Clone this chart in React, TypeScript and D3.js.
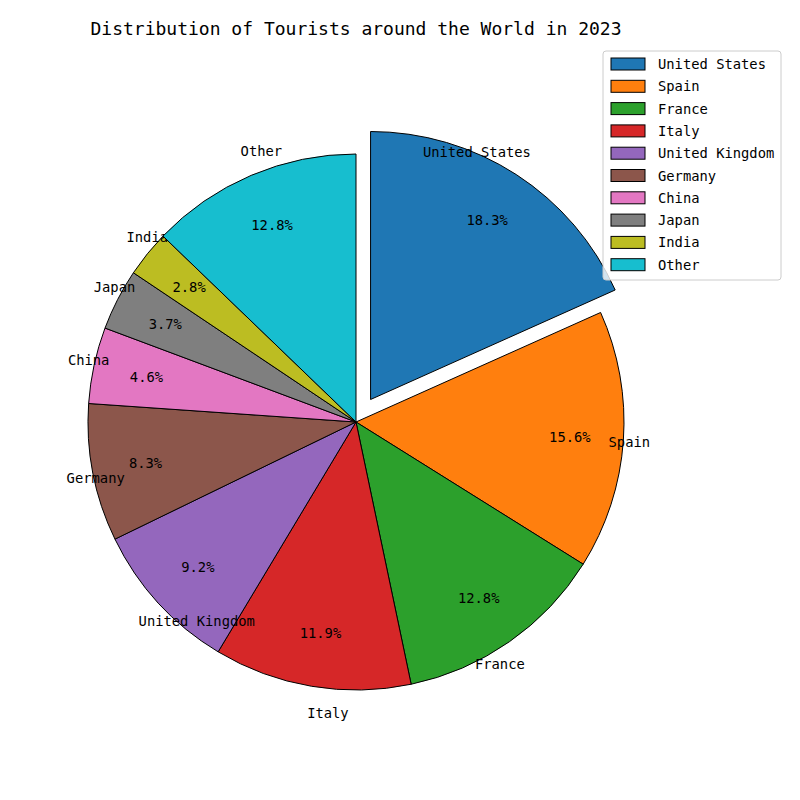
import React from 'react';
import * as d3 from 'd3';

const countries = ['United States', 'Spain', 'France', 'Italy', 'United Kingdom', 'Germany', 'China', 'Japan', 'India', 'Other'];
const shares = [18.3, 15.6, 12.8, 11.9, 9.2, 8.3, 4.6, 3.7, 2.8, 12.8];
const explode = [0.1, 0, 0, 0, 0, 0, 0, 0, 0, 0];
const colors = d3.schemeCategory10;

const FONT = '"DejaVu Sans Mono", monospace';

export default function App() {
  const width = 800;
  const height = 800;
  const cx = 356;
  const cy = 422;
  const r = 268;

  const rows = countries.map((name, i) => ({ name, value: shares[i], explode: explode[i], color: colors[i] }));
  const pie = d3.pie<any>().sort(null).value((d) => d.value).startAngle(0).endAngle(2 * Math.PI);
  const arc = d3.arc<any>().innerRadius(0).outerRadius(r);
  const arcs = pie(rows);
  const total = d3.sum(shares);

  const legendY = d3.scaleLinear().domain([0, 1]).range([64, 86.3]);

  return (
    <svg width={width} height={height} style={{ display: 'block', position: 'absolute', left: 0, top: 0 }}>
      <rect width={width} height={height} fill="#fff" />
      <text x={356} y={28} textAnchor="middle" dominantBaseline="central" fontFamily={FONT} fontSize={18} fill="#000">
        Distribution of Tourists around the World in 2023
      </text>
      {arcs.map((a, i) => {
        const mid = (a.startAngle + a.endAngle) / 2;
        const off = a.data.explode * r;
        const ox = cx + off * Math.sin(mid);
        const oy = cy - off * Math.cos(mid);
        const lx = ox + 1.1 * r * Math.sin(mid);
        const ly = oy - 1.1 * r * Math.cos(mid);
        const px = ox + 0.8 * r * Math.sin(mid);
        const py = oy - 0.8 * r * Math.cos(mid);
        return (
          <g key={a.data.name}>
            <path d={arc(a) as string} transform={`translate(${ox},${oy})`} fill={a.data.color} stroke="#000" strokeWidth={1} strokeLinejoin="round" />
            <text x={px} y={py} textAnchor="middle" dominantBaseline="central" fontFamily={FONT} fontSize={13.8} fill="#000">
              {((a.data.value / total) * 100).toFixed(1)}%
            </text>
            <text
              x={lx}
              y={ly}
              textAnchor={lx - cx > 0 ? 'end' : 'start'}
              dominantBaseline="central"
              fontFamily={FONT}
              fontSize={13.8}
              fill="#000"
            >
              {a.data.name}
            </text>
          </g>
        );
      })}
      <g>
        <rect x={603} y={51} width={178} height={229} rx={3} fill="#fff" fillOpacity={0.8} stroke="#cccccc" strokeWidth={1} />
        {rows.map((d, i) => (
          <g key={d.name}>
            <rect x={611} y={legendY(i) - 6} width={34} height={12} fill={d.color} stroke="#000" strokeWidth={1} />
            <text x={658} y={legendY(i)} dominantBaseline="central" fontFamily={FONT} fontSize={13.8} fill="#000">
              {d.name}
            </text>
          </g>
        ))}
      </g>
    </svg>
  );
}
